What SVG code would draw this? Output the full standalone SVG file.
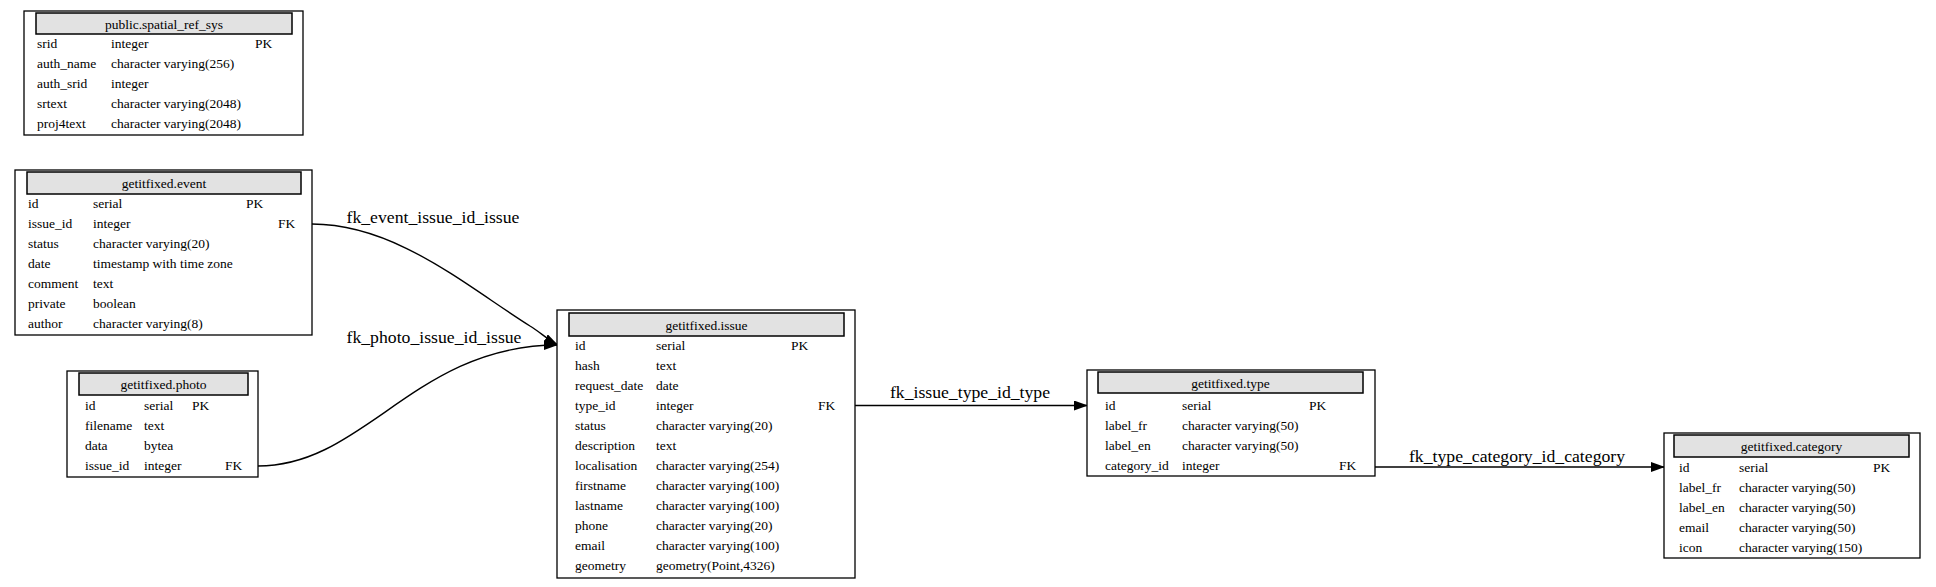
<svg xmlns="http://www.w3.org/2000/svg" width="1936" height="587" viewBox="0 0 1936 587">
<style>
  .box { fill: #ffffff; stroke: #000000; stroke-width: 1.3; }
  .hdr { fill: #e2e2e2; stroke: #000000; stroke-width: 1.5; }
  .t { font-family: "Liberation Serif", "Times New Roman", serif; font-size: 13.5px; fill: #000000; }
  .title { font-family: "Liberation Serif", "Times New Roman", serif; font-size: 13.5px; fill: #000000; text-anchor: middle; }
  .lbl { font-family: "Liberation Serif", "Times New Roman", serif; font-size: 17.7px; fill: #000000; text-anchor: middle; }
  .edge { fill: none; stroke: #000000; stroke-width: 1.4; }
</style>
<defs>
  <marker id="arrow" viewBox="0 0 14 10" refX="14" refY="5" markerWidth="14" markerHeight="10" markerUnits="userSpaceOnUse" orient="auto">
    <path d="M0,0 L14,5 L0,10 z" fill="#000000"/>
  </marker>
</defs>
<rect x="0" y="0" width="1936" height="587" fill="#ffffff"/>

<g id="connectors">
  <path class="edge" d="M312,224 C395,224 465,285 530,326 C540,332 548,340 558,345" marker-end="url(#arrow)"/>
  <text class="lbl" x="433" y="223">fk_event_issue_id_issue</text>
  <path class="edge" d="M258,466 C365,466 415,345 558,345" marker-end="url(#arrow)"/>
  <text class="lbl" x="434" y="343">fk_photo_issue_id_issue</text>
  <path class="edge" d="M855,405.5 L1088,405.5" marker-end="url(#arrow)"/>
  <text class="lbl" x="970" y="398">fk_issue_type_id_type</text>
  <path class="edge" d="M1375,467 L1665,467" marker-end="url(#arrow)"/>
  <text class="lbl" x="1517" y="461.5">fk_type_category_id_category</text>
</g>

<g id="spatial_ref_sys">
  <rect class="box" x="24" y="11" width="279" height="124"/>
  <rect class="hdr" x="36" y="13" width="256" height="21"/>
  <text class="title" x="164" y="28.5">public.spatial_ref_sys</text>
  <text class="t" x="37" y="48">srid</text><text class="t" x="111" y="48">integer</text><text class="t" x="255" y="48">PK</text>
  <text class="t" x="37" y="68">auth_name</text><text class="t" x="111" y="68">character varying(256)</text>
  <text class="t" x="37" y="88">auth_srid</text><text class="t" x="111" y="88">integer</text>
  <text class="t" x="37" y="108">srtext</text><text class="t" x="111" y="108">character varying(2048)</text>
  <text class="t" x="37" y="128">proj4text</text><text class="t" x="111" y="128">character varying(2048)</text>
</g>

<g id="event">
  <rect class="box" x="15" y="170" width="297" height="165"/>
  <rect class="hdr" x="27" y="172" width="274" height="22"/>
  <text class="title" x="164" y="187.5">getitfixed.event</text>
  <text class="t" x="28" y="207.5">id</text><text class="t" x="93" y="207.5">serial</text><text class="t" x="246" y="207.5">PK</text>
  <text class="t" x="28" y="227.5">issue_id</text><text class="t" x="93" y="227.5">integer</text><text class="t" x="278" y="227.5">FK</text>
  <text class="t" x="28" y="247.5">status</text><text class="t" x="93" y="247.5">character varying(20)</text>
  <text class="t" x="28" y="267.5">date</text><text class="t" x="93" y="267.5">timestamp with time zone</text>
  <text class="t" x="28" y="287.5">comment</text><text class="t" x="93" y="287.5">text</text>
  <text class="t" x="28" y="307.5">private</text><text class="t" x="93" y="307.5">boolean</text>
  <text class="t" x="28" y="327.5">author</text><text class="t" x="93" y="327.5">character varying(8)</text>
</g>

<g id="photo">
  <rect class="box" x="67" y="371" width="191" height="106"/>
  <rect class="hdr" x="79" y="373" width="169" height="22"/>
  <text class="title" x="163.5" y="388.5">getitfixed.photo</text>
  <text class="t" x="85" y="410">id</text><text class="t" x="144" y="410">serial</text><text class="t" x="192" y="410">PK</text>
  <text class="t" x="85" y="430">filename</text><text class="t" x="144" y="430">text</text>
  <text class="t" x="85" y="450">data</text><text class="t" x="144" y="450">bytea</text>
  <text class="t" x="85" y="470">issue_id</text><text class="t" x="144" y="470">integer</text><text class="t" x="225" y="470">FK</text>
</g>

<g id="issue">
  <rect class="box" x="557" y="310" width="298" height="268"/>
  <rect class="hdr" x="569" y="313" width="275" height="23"/>
  <text class="title" x="706.5" y="329.5">getitfixed.issue</text>
  <text class="t" x="575" y="350">id</text><text class="t" x="656" y="350">serial</text><text class="t" x="791" y="350">PK</text>
  <text class="t" x="575" y="370">hash</text><text class="t" x="656" y="370">text</text>
  <text class="t" x="575" y="390">request_date</text><text class="t" x="656" y="390">date</text>
  <text class="t" x="575" y="410">type_id</text><text class="t" x="656" y="410">integer</text><text class="t" x="818" y="410">FK</text>
  <text class="t" x="575" y="430">status</text><text class="t" x="656" y="430">character varying(20)</text>
  <text class="t" x="575" y="450">description</text><text class="t" x="656" y="450">text</text>
  <text class="t" x="575" y="470">localisation</text><text class="t" x="656" y="470">character varying(254)</text>
  <text class="t" x="575" y="490">firstname</text><text class="t" x="656" y="490">character varying(100)</text>
  <text class="t" x="575" y="510">lastname</text><text class="t" x="656" y="510">character varying(100)</text>
  <text class="t" x="575" y="530">phone</text><text class="t" x="656" y="530">character varying(20)</text>
  <text class="t" x="575" y="550">email</text><text class="t" x="656" y="550">character varying(100)</text>
  <text class="t" x="575" y="570">geometry</text><text class="t" x="656" y="570">geometry(Point,4326)</text>
</g>

<g id="type">
  <rect class="box" x="1087" y="370" width="288" height="106"/>
  <rect class="hdr" x="1098" y="372" width="265" height="21"/>
  <text class="title" x="1230.5" y="387.5">getitfixed.type</text>
  <text class="t" x="1105" y="410">id</text><text class="t" x="1182" y="410">serial</text><text class="t" x="1309" y="410">PK</text>
  <text class="t" x="1105" y="430">label_fr</text><text class="t" x="1182" y="430">character varying(50)</text>
  <text class="t" x="1105" y="450">label_en</text><text class="t" x="1182" y="450">character varying(50)</text>
  <text class="t" x="1105" y="470">category_id</text><text class="t" x="1182" y="470">integer</text><text class="t" x="1339" y="470">FK</text>
</g>

<g id="category">
  <rect class="box" x="1664" y="433" width="256" height="125"/>
  <rect class="hdr" x="1674" y="435" width="235" height="22"/>
  <text class="title" x="1791.5" y="450.5">getitfixed.category</text>
  <text class="t" x="1679" y="471.5">id</text><text class="t" x="1739" y="471.5">serial</text><text class="t" x="1873" y="471.5">PK</text>
  <text class="t" x="1679" y="491.5">label_fr</text><text class="t" x="1739" y="491.5">character varying(50)</text>
  <text class="t" x="1679" y="511.5">label_en</text><text class="t" x="1739" y="511.5">character varying(50)</text>
  <text class="t" x="1679" y="531.5">email</text><text class="t" x="1739" y="531.5">character varying(50)</text>
  <text class="t" x="1679" y="551.5">icon</text><text class="t" x="1739" y="551.5">character varying(150)</text>
</g>
</svg>
